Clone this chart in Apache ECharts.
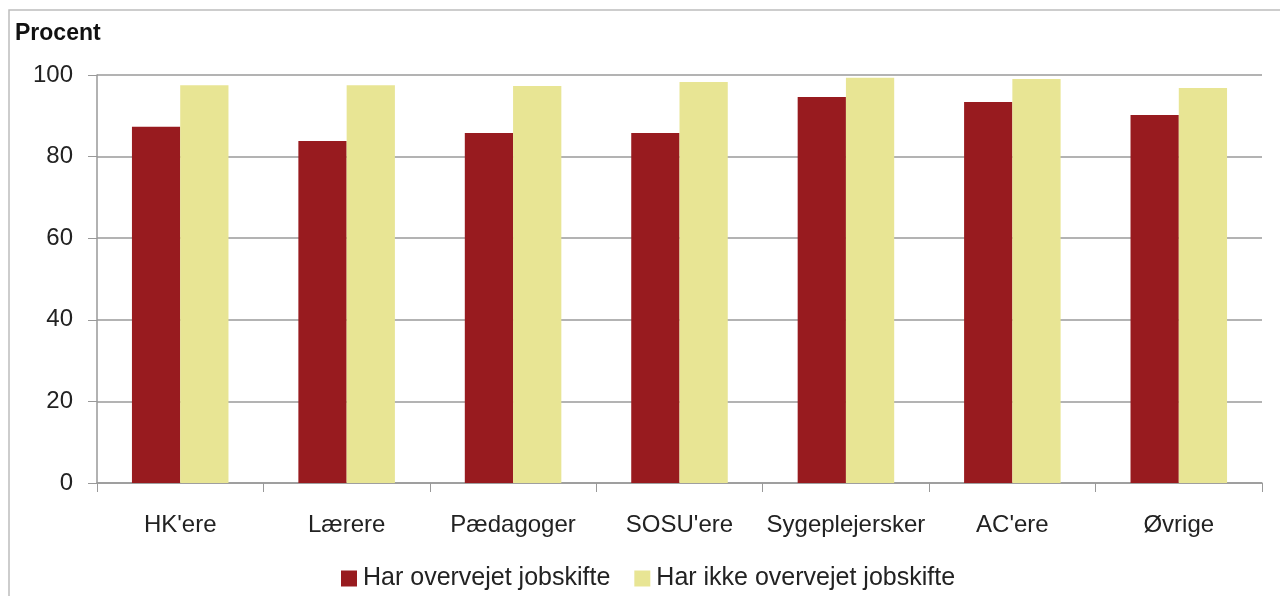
<!DOCTYPE html>
<html>
<head>
<meta charset="utf-8">
<script src="https://cdn.jsdelivr.net/npm/echarts@6/dist/echarts.min.js"></script>
<style>
  html, body { margin: 0; padding: 0; background: #fff; }
  #container { width: 1280px; height: 596px; }
</style>
</head>
<body>
<div id="container"></div>
<script>
var categories = ["HK'ere", 'Lærere', 'Pædagoger', "SOSU'ere", 'Sygeplejersker', "AC'ere", 'Øvrige'];
var harOvervejet = [87.3, 83.8, 85.8, 85.8, 94.6, 93.4, 90.2];
var harIkkeOvervejet = [97.5, 97.5, 97.3, 98.3, 99.3, 99.0, 96.8];
var seriesNames = ['Har overvejet jobskifte', 'Har ikke overvejet jobskifte'];

var font = 'Liberation Sans';
var dom = document.getElementById('container');
var myChart = echarts.init(dom);

var option = {
  animation: false,
  color: ['#981b1f', '#e8e594'],
  textStyle: { fontFamily: font },
  graphic: [{
    type: 'polyline',
    shape: { points: [[9, 596], [9, 10], [1280, 10]] },
    style: { stroke: '#bdbdbd', lineWidth: 1.5, fill: null }
  }, {
    type: 'text',
    left: 15,
    top: 22,
    style: { text: 'Procent', font: 'bold 23px ' + font, fill: '#111' }
  }],
  legend: {
    bottom: 0,
    left: 336,
    itemWidth: 16,
    itemHeight: 16,
    itemGap: 24,
    icon: 'rect',
    textStyle: { fontSize: 25, color: '#222', fontFamily: font, padding: [0, 0, 0, 1] },
    data: seriesNames
  },
  grid: { left: 97, right: 18, top: 75, bottom: 113, containLabel: false },
  xAxis: {
    type: 'category',
    data: categories,
    axisLine: { lineStyle: { color: '#999', width: 1.5 } },
    axisTick: { show: true, interval: 0, length: 9, lineStyle: { color: '#999' } },
    axisLabel: { interval: 0, fontSize: 24, color: '#222', margin: 30 }
  },
  yAxis: {
    type: 'value',
    min: 0,
    max: 100,
    interval: 20,
    axisLine: { show: true, lineStyle: { color: '#999', width: 1.5 } },
    axisTick: { show: true, length: 9, lineStyle: { color: '#999' } },
    axisLabel: { fontSize: 24, color: '#222', margin: 24 },
    splitLine: { lineStyle: { color: '#b3b3b3', width: 2 } }
  },
  series: [{
    name: seriesNames[0],
    type: 'bar',
    data: harOvervejet,
    barGap: '0%',
    barCategoryGap: '42%'
  }, {
    name: seriesNames[1],
    type: 'bar',
    data: harIkkeOvervejet,
    barGap: '0%',
    barCategoryGap: '42%'
  }]
};

myChart.setOption(option);
</script>
</body>
</html>
